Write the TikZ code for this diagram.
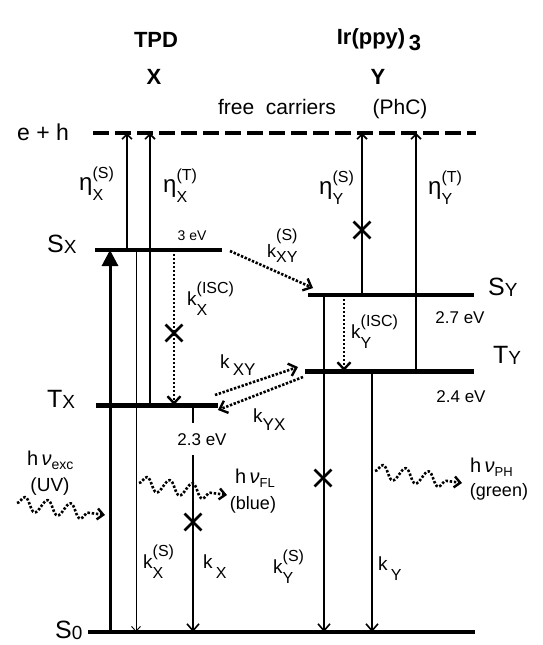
\documentclass[tikz,border=0pt]{standalone}
\usepackage{fontspec}
\setmainfont{Liberation Sans}
\usetikzlibrary{arrows.meta,decorations.pathmorphing,shapes.misc}
\newcommand{\fsz}[1]{\fontsize{#1}{#1}\selectfont}
\newcommand{\krate}[4][10pt]{#2\raisebox{-#1}{\fontsize{16}{22}\selectfont\begin{tabular}[b]{@{}l@{}}(#3)\\#4\end{tabular}}}
\newcommand{\lvlab}[2]{#1\raisebox{-1pt}{\fsz{19}#2}}
\begin{document}
\begin{tikzpicture}[x=1pt, y=-1pt, line join=round, font=\fsz{19},
  level/.style={line width=4pt},
  arr/.style={line width=1.8pt},
  upar/.style={arr, -{Straight Barb[length=5pt,width=10pt,line width=1.6pt]}},
  dnar/.style={arr, -{Straight Barb[length=7pt,width=12pt,line width=1.6pt]}},
  dotar/.style={line width=2.6pt, dash pattern=on 2.4pt off 1.6pt, -{Straight Barb[length=7pt,width=13pt,line width=2.4pt]}},
  wave/.style={line width=2.6pt, dash pattern=on 2.4pt off 1.8pt, decorate, decoration={snake, amplitude=7pt, segment length=23pt, post length=6pt}, -{Straight Barb[length=6pt,width=11pt,line width=2.4pt]}},
  xmark/.style={draw, cross out, line width=2.8pt, minimum size=14pt, inner sep=0pt},
  lab/.style={anchor=base west, inner sep=0pt}]
  \useasboundingbox (0,0) rectangle (543,645);
  % levels
  \coordinate (EHw) at (93,133);  \coordinate (EHe) at (476,133);
  \coordinate (SXw) at (95,250);  \coordinate (SXe) at (222,250);
  \coordinate (TXw) at (96,405);  \coordinate (TXe) at (218,405);
  \coordinate (SYw) at (308,295); \coordinate (SYe) at (474,295);
  \coordinate (TYw) at (305,371); \coordinate (TYe) at (474,371);
  \coordinate (S0w) at (88,632);  \coordinate (S0e) at (475,632);
  \draw[line width=4.5pt, dash pattern=on 16pt off 6pt] (EHw) -- (EHe);
  \draw[level] (SXw) -- (SXe);
  \draw[level, line width=5pt] (TXw) -- (TXe);
  \draw[level] (SYw) -- (SYe);
  \draw[level, line width=5pt] (TYw) -- (TYe);
  \draw[level] (S0w) -- (S0e);
  % molecule X
  \draw[line width=3pt, -{Triangle[length=16pt,width=16pt]}] (110,0 |- S0w) -- (110,0 |- SXw);
  \draw[upar] (127,0 |- SXw) -- (127,0 |- EHw);
  \draw[upar] (150,0 |- TXw) -- (150,0 |- EHw);
  \draw[line width=0.9pt, -{Straight Barb[length=5pt,width=9pt,line width=0.9pt]}] (136,0 |- SXw) -- (136,0 |- S0w);
  \draw[dotar] (174,0 |- SXw) -- (174,0 |- TXw);
  \draw[dnar] (193,0 |- TXw) -- (193,0 |- S0w);
  % molecule Y
  \draw[upar] (362,0 |- SYw) -- (362,0 |- EHw);
  \draw[upar] (416,0 |- TYw) -- (416,0 |- EHw);
  \draw[dnar] (324,0 |- SYw) -- (324,0 |- S0w);
  \draw[dotar] (344,0 |- SYw) -- (344,0 |- TYw);
  \draw[dnar] (372,0 |- TYw) -- (372,0 |- S0w);
  % transfer
  \coordinate (xyS1) at (230,251); \coordinate (xyS2) at (313,288);
  \coordinate (xy1) at (215,395);  \coordinate (xy2) at (298,367);
  \coordinate (yx1) at (303,377);  \coordinate (yx2) at (218,410);
  \draw[dotar] (xyS1) -- (xyS2);
  \draw[dotar] (xy1) -- (xy2);
  \draw[dotar] (yx1) -- (yx2);
  % photons
  \coordinate (wexc1) at (17,503); \coordinate (wexc2) at (105,515);
  \coordinate (wfl1) at (139,483); \coordinate (wfl2) at (227,495);
  \coordinate (wph1) at (375,471); \coordinate (wph2) at (462,483);
  \draw[wave] (wexc1) -- (wexc2);
  \draw[wave] (wfl1) -- (wfl2);
  \draw[wave] (wph1) -- (wph2);
  % blocked channels
  \node[xmark] (cXisc) at (174,333) {};
  \node[xmark] (cX) at (193,522) {};
  \node[xmark] (cYeta) at (362,230) {};
  \node[xmark] (cYS) at (323,478) {};
  % headers
  \node[font=\bfseries\fsz{22}] (tpd) at (156,40) {TPD};
  \node[font=\bfseries\fsz{22}] (molX) at (154,77) {X};
  \node[font=\bfseries\fsz{22}] (irppy) at (379,40) {Ir(ppy)\,\raisebox{-6pt}{3}};
  \node[font=\bfseries\fsz{22}] (molY) at (378,77) {Y};
  \node[font=\fsz{21}, anchor=base] (free) at (277,114) {free\ \ carriers};
  \node[font=\fsz{21}, anchor=base] (phc) at (400,114) {(PhC)};
  \node[font=\fsz{23}] (eh) at (43,132) {e + h};
  % level labels
  \node[lab, font=\fsz{25}] (lSX) at (47,252) {\lvlab{S}{X}};
  \node[lab, font=\fsz{25}] (lTX) at (47,407) {\lvlab{T}{X}};
  \node[lab, font=\fsz{25}] (lS0) at (55,638) {\lvlab{S}{0}};
  \node[lab, font=\fsz{25}] (lSY) at (488,295) {\lvlab{S}{Y}};
  \node[lab, font=\fsz{25}] (lTY) at (493,363) {\lvlab{T}{Y}};
  % energies
  \node[font=\fsz{14}, anchor=base] (e3) at (192,240) {3 eV};
  \node[font=\fsz{17}, anchor=base, fill=white, inner xsep=1pt, inner ysep=10pt] (e23) at (202,445) {2.3 eV};
  \node[font=\fsz{17}, anchor=base] (e27) at (460,323) {2.7 eV};
  \node[font=\fsz{17}, anchor=base] (e24) at (461,402) {2.4 eV};
  % rates
  \node[lab, font=\fsz{24}] (etaXS) at (79,190) {\krate{η}{S}{X}};
  \node[lab, font=\fsz{24}] (etaXT) at (163,192) {\krate{η}{T}{X}};
  \node[lab, font=\fsz{24}] (etaYS) at (319,194) {\krate{η}{S}{Y}};
  \node[lab, font=\fsz{24}] (etaYT) at (428,194) {\krate{η}{T}{Y}};
  \node[lab] (kXisc) at (187,305) {\krate{k}{ISC}{X}};
  \node[lab] (kYisc) at (351,338) {\krate{k}{ISC}{Y}};
  \node[lab, font=\fsz{18}] (kXYS) at (267,257) {\krate[5pt]{k}{S}{XY}};
  \node[lab] (kXY) at (220,368) {k\,\raisebox{-7pt}{\fsz{17}XY}};
  \node[lab] (kYX) at (253,422) {k\raisebox{-8pt}{\fsz{17}YX}};
  \node[lab] (kXS) at (143,568) {\krate{k}{S}{X}};
  \node[lab] (kX) at (203,568) {k\,\raisebox{-10pt}{\fsz{16}X}};
  \node[lab] (kYS) at (273,573) {\krate{k}{S}{Y}};
  \node[lab] (kY) at (378,570) {k\,\raisebox{-10pt}{\fsz{16}Y}};
  % photon labels
  \node[lab, font=\fsz{20}] (hexc) at (27,465) {h\,\textit{ν}\raisebox{-4pt}{\fsz{14}exc}};
  \node[font=\fsz{19}, inner sep=0pt] (uv) at (50,487) {(UV)};
  \node[lab, font=\fsz{20}] (hfl) at (235,483) {h\,\textit{ν}\raisebox{-4pt}{\fsz{13}FL}};
  \node[font=\fsz{18}, inner sep=0pt] (blue) at (253,505) {(blue)};
  \node[lab, font=\fsz{20}] (hph) at (470,472) {h\,\textit{ν}\raisebox{-4pt}{\fsz{13}PH}};
  \node[font=\fsz{18}, inner sep=0pt] (green) at (499,492) {(green)};
\end{tikzpicture}
\end{document}
